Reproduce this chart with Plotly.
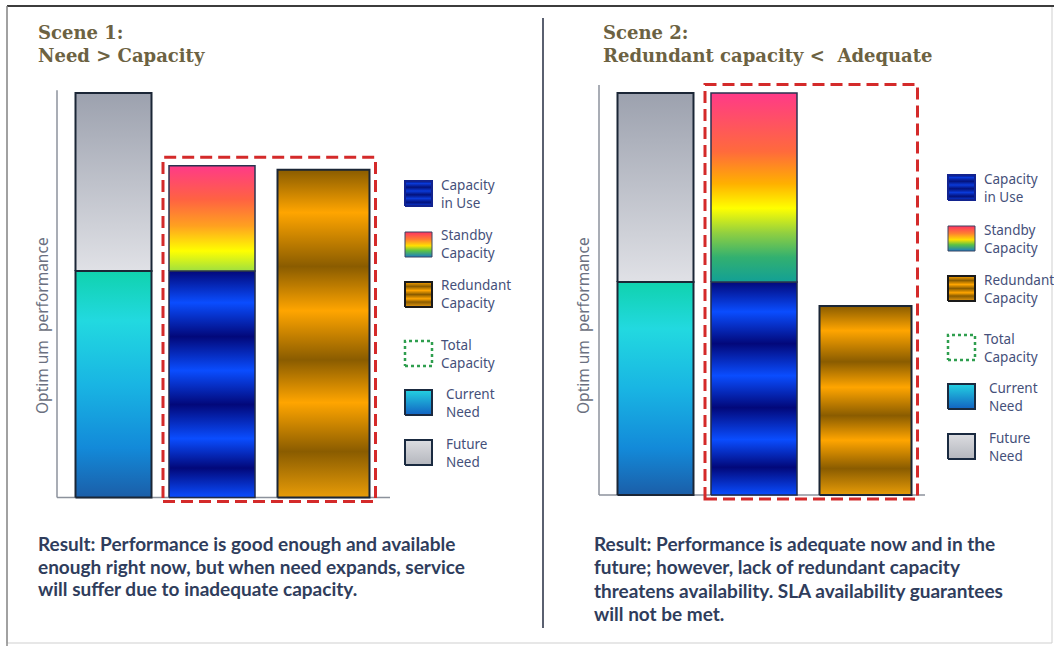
import plotly.graph_objects as go

W, H = 1054, 646

# ---------------- data (units of optimum performance) ----------------
scenes = ["Scene 1", "Scene 2"]
current_need = [56, 53]
future_need = [44, 47]
capacity_in_use = [56, 53]
standby_capacity = [26, 47]
redundant_capacity = [81, 47]

scene_titles = [
    "Scene 1:<br>Need &gt; Capacity",
    "Scene 2:<br>Redundant capacity &lt;&nbsp; Adequate",
]
y_axis_label = "Optim um&nbsp; performance"
legend_labels = [
    "Capacity<br>in Use",
    "Standby<br>Capacity",
    "Redundant<br>Capacity",
    "Total<br>Capacity",
    "Current<br>Need",
    "Future<br>Need",
]
result_lines = [
    [
        "Result: Performance is good enough and available",
        "enough right now, but when need expands, service",
        "will suffer due to inadequate capacity.",
    ],
    [
        "Result: Performance is adequate now and in the",
        "future; however, lack of redundant capacity",
        "threatens availability. SLA availability guarantees",
        "will not be met.",
    ],
]

# ---------------- styling ----------------
FUTURE_SCALE = [[0, "#e0e1e6"], [1, "#9ca1ae"]]
CURRENT_SCALE = [[0, "#1b5ea8"], [0.22, "#138ad9"], [0.5, "#19b5e3"],
                 [0.78, "#22d9e0"], [1, "#10d2ae"]]
NAVY, BRIGHT = "#02087a", "#0a4dff"
IN_USE_SCALE = [[0, BRIGHT], [0.13, NAVY], [0.26, BRIGHT], [0.41, NAVY],
                [0.56, BRIGHT], [0.71, NAVY], [0.86, BRIGHT], [1, NAVY]]
STANDBY_SCALES = [
    [[0, "#9fe040"], [0.19, "#ffff00"], [0.43, "#ffa020"], [0.68, "#ff6242"],
     [1, "#ff3a88"]],
    [[0, "#12a096"], [0.13, "#32b070"], [0.26, "#92d040"], [0.39, "#ffff00"],
     [0.52, "#ffb000"], [0.69, "#ff6a3c"], [1, "#ff3a88"]],
]
ORANGE, BROWN = "#ffa500", "#8a5c00"
REDUNDANT_SCALE = [[0, "#e89c08"], [0.14, BROWN], [0.29, ORANGE], [0.42, BROWN],
                   [0.57, ORANGE], [0.705, BROWN], [0.87, ORANGE], [1, BROWN]]

OUTLINE = "#1b2636"
AXIS_COLOR = "#8c929c"
DASH_RED = "#d42a2a"
TITLE_COLOR = "#6c6242"
TEXT_COLOR = "#2f3d5c"
LEGEND_TEXT = "#45507a"

# scene geometry: value-axis origin (px), pixels per unit, axis extents
ORIGIN_X = [57, 599]
ORIGIN_Y = [497.5, 495]
PX_PER_UNIT = [4.045, 4.02]
AXIS_TOP = [100.7, 102]
AXIS_LEN_X = [333, 326]
SLOT_CENTER = [56.5, 155, 266.5]
SLOT_WIDTH = [76, 86, 92]
TITLE_X = [37, 602]
LABEL_X = [42, 583]
LEGEND_X = [405, 948]
LEGEND_TOP = [181, 175]
LEGEND_ROWS = [0, 51, 101, 160, 209, 259]
RESULT_X = [37, 593]
RESULT_Y = [[543, 566, 588.5], [543, 566.5, 590, 613.5]]


def px(x):
    return x / W


def py(y):
    return 1 - y / H


fig = go.Figure()

axis_hidden = dict(visible=False, showgrid=False, zeroline=False, fixedrange=True)
layout_axes = {}
for i in range(2):
    sfx = "" if i == 0 else "2"
    ox, oy, k = ORIGIN_X[i], ORIGIN_Y[i], PX_PER_UNIT[i]
    layout_axes["xaxis" + sfx] = dict(
        axis_hidden, domain=[px(ox - 10), px(ox + 342)], range=[-10, 342],
        anchor="y" + sfx)
    layout_axes["yaxis" + sfx] = dict(
        axis_hidden, domain=[py(508), py(75)],
        range=[(oy - 508) / k, (oy - 75) / k], anchor="x" + sfx)
# full-canvas pixel axes for the legend keys
layout_axes["xaxis3"] = dict(axis_hidden, domain=[0, 1], range=[0, W], anchor="y3")
layout_axes["yaxis3"] = dict(axis_hidden, domain=[0, 1], range=[0, H], anchor="x3")


def add_segment(scene, slot, base, height, scale, line_color=OUTLINE, lw=2):
    sfx = "" if scene == 0 else "2"
    x0 = SLOT_CENTER[slot] - SLOT_WIDTH[slot] / 2
    x1 = SLOT_CENTER[slot] + SLOT_WIDTH[slot] / 2
    fig.add_trace(go.Scatter(
        x=[x0, x1, x1, x0, x0],
        y=[base, base, base + height, base + height, base],
        mode="lines", fill="toself",
        fillgradient=dict(type="vertical", colorscale=scale),
        line=dict(color=line_color, width=lw),
        xaxis="x" + sfx, yaxis="y" + sfx,
        hoverinfo="skip", showlegend=False))


shapes = []
annotations = []

for i in range(2):
    sfx = "" if i == 0 else "2"
    # need bar: current + future
    add_segment(i, 0, 0, current_need[i], CURRENT_SCALE)
    add_segment(i, 0, current_need[i], future_need[i], FUTURE_SCALE)
    # capacity bar: in use + standby
    add_segment(i, 1, 0, capacity_in_use[i], IN_USE_SCALE, "#1f2a4a", 1.5)
    add_segment(i, 1, capacity_in_use[i], standby_capacity[i],
                STANDBY_SCALES[i], "#2a3350", 1.5)
    # redundant bar
    add_segment(i, 2, 0, redundant_capacity[i], REDUNDANT_SCALE)

    # axis lines
    shapes.append(dict(type="line", xref="x" + sfx, yref="y" + sfx,
                       x0=0, x1=0, y0=0, y1=AXIS_TOP[i],
                       line=dict(color=AXIS_COLOR, width=1.5), layer="below"))
    shapes.append(dict(type="line", xref="x" + sfx, yref="y" + sfx,
                       x0=0, x1=AXIS_LEN_X[i], y0=0, y1=0,
                       line=dict(color=AXIS_COLOR, width=1.5), layer="below"))

    # total capacity outline around capacity + redundant bars
    total_top = max(capacity_in_use[i] + standby_capacity[i], redundant_capacity[i])
    k = PX_PER_UNIT[i]
    shapes.append(dict(
        type="rect", xref="x" + sfx, yref="y" + sfx,
        x0=SLOT_CENTER[1] - SLOT_WIDTH[1] / 2 - 6,
        x1=SLOT_CENTER[2] + SLOT_WIDTH[2] / 2 + 6,
        y0=-4 / k, y1=total_top + 8.5 / k,
        line=dict(color=DASH_RED, width=3, dash="12px,6px"), layer="above"))

    # titles
    annotations.append(dict(
        text="<b>" + scene_titles[i] + "</b>", x=px(TITLE_X[i] - 1), y=py(20),
        xref="paper", yref="paper", xanchor="left", yanchor="top",
        align="left", showarrow=False,
        font=dict(family="DejaVu Serif", size=18, color=TITLE_COLOR)))
    # value-axis label
    annotations.append(dict(
        text=y_axis_label, x=px(LABEL_X[i]), y=py(326), textangle=-90,
        xref="paper", yref="paper", xanchor="center", yanchor="middle",
        showarrow=False,
        font=dict(family="Noto Sans", size=15.5, color="#6b7080")))
    # result text
    for line, yy in zip(result_lines[i], RESULT_Y[i]):
        annotations.append(dict(
            text="<b>" + line + "</b>", x=px(RESULT_X[i] - 1), y=py(yy),
            xref="paper", yref="paper", xanchor="left", yanchor="middle",
            showarrow=False,
            font=dict(family="Lato", size=19, color=TEXT_COLOR)))

    # legend keys
    key_scales = [
        [[0, "#0a3ad8"], [0.15, "#04127a"], [0.3, "#0a3ad8"], [0.45, "#04127a"],
         [0.6, "#0a3ad8"], [0.75, "#04127a"], [0.9, "#0a3ad8"], [1, "#04127a"]],
        [[0, "#1a7cc4"], [0.25, "#5cc244"], [0.45, "#ffe000"], [0.7, "#ff8030"],
         [1, "#ff3262"]],
        [[0, "#e89a10"], [0.2, BROWN], [0.33, ORANGE], [0.5, BROWN],
         [0.66, ORANGE], [0.82, BROWN], [1, ORANGE]],
        None,
        [[0, "#1262c2"], [1, "#24d2e2"]],
        [[0, "#b4b6bd"], [1, "#dcdde1"]],
    ]
    key_lines = ["#12238f", "#3a4460", "#1a1a1a", "#2e9e4e", "#1a2a40", "#1a2a40"]
    for r, label in enumerate(legend_labels):
        top = LEGEND_TOP[i] + LEGEND_ROWS[r]
        x0, x1 = LEGEND_X[i], LEGEND_X[i] + 27
        y0, y1 = H - (top + 25), H - top
        if key_scales[r] is None:
            fig.add_trace(go.Scatter(
                x=[x0, x1, x1, x0, x0], y=[y0, y0, y1, y1, y0], mode="lines",
                line=dict(color=key_lines[r], width=2.5, dash="dot"),
                xaxis="x3", yaxis="y3", hoverinfo="skip", showlegend=False))
        else:
            fig.add_trace(go.Scatter(
                x=[x0, x1, x1, x0, x0], y=[y0, y0, y1, y1, y0], mode="lines",
                fill="toself",
                fillgradient=dict(type="vertical", colorscale=key_scales[r]),
                line=dict(color=key_lines[r], width=2 if r != 1 else 1),
                xaxis="x3", yaxis="y3", hoverinfo="skip", showlegend=False))
        tx = LEGEND_X[i] + (34 if r < 4 else 39)
        annotations.append(dict(
            text=label, x=px(tx), y=py(top + 12.5),
            xref="paper", yref="paper", xanchor="left", yanchor="middle",
            align="left", showarrow=False,
            font=dict(family="Noto Sans", size=13.5, color=LEGEND_TEXT)))

# outer frame and divider
shapes += [
    dict(type="rect", xref="paper", yref="paper", x0=px(7), x1=px(1052),
         y0=py(643), y1=py(6), line=dict(color="#cfcfcf", width=1), layer="below"),
    dict(type="line", xref="paper", yref="paper", x0=px(7), x1=px(1054),
         y0=py(6), y1=py(6), line=dict(color="#3c3c3c", width=2)),
    dict(type="line", xref="paper", yref="paper", x0=px(7), x1=px(7),
         y0=py(6), y1=py(646), line=dict(color="#8a8a8a", width=1.5)),
    dict(type="line", xref="paper", yref="paper", x0=px(543), x1=px(543),
         y0=py(18), y1=py(628), line=dict(color="#5a6070", width=2)),
]

fig.update_layout(
    width=W, height=H, autosize=False,
    margin=dict(l=0, r=0, t=0, b=0, pad=0),
    paper_bgcolor="white", plot_bgcolor="rgba(0,0,0,0)",
    showlegend=False, shapes=shapes, annotations=annotations,
    **layout_axes)

fig.write_html("out.html", config={"displayModeBar": False, "staticPlot": True})
